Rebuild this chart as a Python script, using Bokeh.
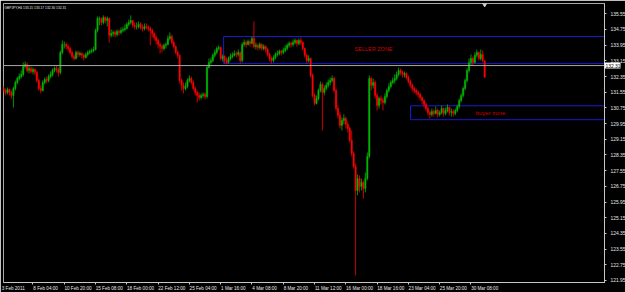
from bokeh.plotting import figure
from bokeh.models import Range1d, FixedTicker, PrintfTickFormatter, Label, Span, ColumnDataSource, LinearAxis
from bokeh.core.properties import value
from bokeh.embed import file_html
from bokeh.resources import INLINE

title_text = "GBPJPY,H4 133.15 133.17 132.30 132.31"
bid_label = "132.31"
hline_price = 132.91

first_open = 131.84
close = [131.74,131.64,131.54,131.69,131.54,131.39,131.74,132.05,132.25,132.35,
         132.46,132.86,132.97,132.66,132.76,132.61,132.71,132.56,132.15,131.74,
         131.64,132.05,132.20,132.15,132.35,132.46,132.66,132.76,132.71,132.56,
         133.58,133.99,133.99,133.88,133.78,133.58,133.37,133.27,133.58,133.48,
         133.53,133.43,133.32,133.48,133.58,133.63,133.68,133.73,134.70,135.31,
         135.31,135.11,135.36,135.21,135.31,134.45,134.55,134.60,134.50,134.65,
         134.60,134.70,134.75,134.80,135.01,135.11,135.21,134.96,134.90,134.90,
         135.01,134.85,134.80,134.90,134.85,134.80,134.70,134.55,134.34,134.19,
         133.99,133.88,133.78,133.94,133.99,134.29,134.39,134.09,133.88,133.58,
         133.43,132.15,131.90,131.74,131.84,132.15,132.25,132.05,131.74,131.54,
         131.39,131.28,131.39,131.44,131.33,132.81,133.07,133.17,133.43,133.58,
         133.78,133.83,133.27,133.37,133.17,133.07,133.27,133.37,133.43,133.53,
         133.48,133.58,133.17,133.99,134.09,133.99,134.14,134.04,134.29,133.88,
         133.94,133.83,133.99,133.78,133.88,133.73,133.48,133.27,133.17,133.32,
         133.48,133.53,133.63,133.58,133.68,133.78,133.94,134.04,133.99,134.09,
         134.19,134.04,134.19,134.09,133.78,133.43,133.17,133.27,132.41,131.39,
         130.98,131.23,131.64,131.95,131.54,131.74,131.90,132.05,132.15,132.25,
         131.64,130.72,130.37,129.86,130.11,130.21,129.91,129.70,129.09,128.43,
         127.76,126.54,127.15,126.74,126.95,126.64,127.15,128.27,132.25,131.90,
         132.05,131.39,130.88,131.23,131.13,131.03,131.33,131.64,131.84,132.05,
         132.15,132.25,132.46,132.66,132.56,132.46,132.51,132.30,132.10,131.90,
         131.74,131.64,131.54,131.44,131.28,131.13,130.93,130.72,130.52,130.42,
         130.57,130.47,130.62,130.42,130.52,130.72,130.47,130.62,130.77,130.52,
         130.57,130.47,130.62,130.82,131.13,131.39,131.74,132.15,132.66,133.07,
         133.27,133.07,133.43,133.58,133.27,133.48,133.15,132.31]
high = [131.95,131.84,131.74,131.79,131.74,131.64,131.84,132.15,132.35,132.51,
        132.66,133.07,133.12,133.07,132.92,132.86,132.81,132.76,132.66,132.25,
        131.90,132.15,132.30,132.35,132.46,132.61,132.76,132.86,132.92,132.81,
        133.68,134.19,134.14,134.09,133.99,133.88,133.68,133.48,133.68,133.68,
        133.63,133.58,133.53,133.58,133.68,133.73,133.78,133.88,134.80,135.41,
        135.41,135.36,135.47,135.41,135.41,135.36,134.75,134.70,134.70,134.75,
        134.75,134.85,134.90,135.01,135.11,135.26,135.47,135.21,135.11,135.11,
        135.16,135.11,135.01,135.06,135.06,134.96,134.90,134.80,134.60,134.45,
        134.29,134.09,133.99,134.04,134.09,134.45,134.60,134.50,134.19,133.94,
        133.68,133.48,132.25,132.05,132.05,132.25,132.41,132.35,132.15,131.84,
        131.64,131.54,131.49,131.54,131.54,132.92,133.27,133.32,133.53,133.73,
        133.88,133.94,133.88,133.48,133.43,133.32,133.37,133.53,133.58,133.68,
        133.63,133.73,133.63,134.09,134.24,134.19,134.24,134.19,134.39,135.16,
        134.09,134.04,134.09,134.04,133.99,133.94,133.83,133.58,133.37,133.43,
        133.58,133.68,133.73,133.73,133.83,133.94,134.04,134.14,134.14,134.24,
        134.29,134.24,134.29,134.34,134.14,133.83,133.53,133.43,133.32,132.51,
        131.49,131.39,131.74,132.10,132.05,131.90,132.05,132.20,132.30,132.41,
        132.35,131.74,130.88,130.52,130.26,130.42,130.31,130.06,129.80,129.60,
        128.53,127.92,127.36,127.31,127.15,127.05,127.46,128.48,132.41,132.35,
        132.25,132.15,131.49,131.33,131.39,131.28,131.49,131.74,132.00,132.15,
        132.30,132.46,132.61,132.81,132.76,132.66,132.61,132.56,132.41,132.20,
        132.00,131.84,131.74,131.64,131.54,131.33,131.18,131.03,130.82,130.62,
        130.72,130.67,130.82,130.72,130.62,130.88,130.77,130.77,130.93,130.82,
        130.72,130.67,130.72,130.93,131.23,131.49,131.84,132.25,132.76,133.27,
        133.48,133.37,133.58,133.73,133.63,133.73,133.68,133.17]
low = [131.54,131.49,131.39,131.44,131.39,131.23,130.77,131.64,131.95,132.15,
       132.25,132.35,132.76,132.56,132.51,132.51,132.46,132.41,132.05,131.64,
       131.49,131.59,131.95,132.00,132.05,132.25,132.35,132.56,132.56,132.35,
       132.46,133.48,133.78,133.73,133.63,133.48,133.27,133.17,133.22,133.32,
       133.37,133.27,133.17,133.27,133.37,133.48,133.53,133.58,133.68,134.60,
       134.96,134.96,135.01,135.06,134.90,134.09,134.34,134.39,134.34,134.39,
       134.45,134.50,134.60,134.65,134.75,134.90,135.01,134.85,134.75,134.75,
       134.80,134.75,134.65,134.70,134.75,134.65,133.94,134.34,134.19,133.99,
       133.78,133.53,133.58,133.68,133.78,133.94,134.19,133.99,133.78,133.48,
       133.27,132.00,131.64,131.49,131.64,131.74,132.05,131.95,131.64,131.39,
       131.03,131.13,131.18,131.28,131.18,131.23,132.76,132.97,133.07,133.32,
       133.48,133.68,133.17,133.12,133.02,132.97,133.02,133.17,133.27,133.37,
       133.32,133.37,133.02,133.07,133.88,133.83,133.94,133.88,133.99,133.78,
       133.73,133.68,133.73,133.68,133.68,133.58,133.37,133.12,133.02,133.07,
       133.22,133.37,133.43,133.43,133.48,133.58,133.68,133.83,133.83,133.88,
       133.99,133.88,133.94,133.94,133.68,133.32,133.02,133.07,132.30,131.28,
       130.88,130.93,131.13,131.54,129.60,131.39,131.64,131.79,131.90,132.05,
       131.54,130.62,130.21,129.70,129.60,129.91,129.70,129.50,128.99,128.27,
       127.66,122.21,126.29,126.44,126.54,126.13,126.44,127.05,128.17,131.64,
       131.74,131.23,130.62,130.72,130.93,130.62,130.93,131.23,131.54,131.74,
       131.95,132.00,132.15,132.35,132.41,132.30,132.30,132.20,132.00,131.79,
       131.59,131.49,131.39,131.28,131.13,130.93,130.77,130.57,130.37,130.21,
       130.31,130.31,130.42,130.26,130.31,130.42,130.31,130.37,130.52,130.37,
       130.31,130.31,130.37,130.52,130.72,131.03,131.28,131.64,132.05,132.56,
       132.92,132.92,133.02,133.32,133.17,133.17,133.07,132.30]

time_tick_bars = [0, 16, 32, 48, 64, 80, 96, 112, 128, 144, 160, 176, 192, 208, 224, 240]
time_tick_labels = ["3 Feb 2011", "8 Feb 04:00", "10 Feb 20:00", "15 Feb 08:00", "18 Feb 00:00",
                    "22 Feb 12:00", "25 Feb 04:00", "1 Mar 16:00", "4 Mar 08:00", "8 Mar 20:00",
                    "11 Mar 12:00", "16 Mar 00:00", "18 Mar 16:00", "23 Mar 04:00", "25 Mar 20:00",
                    "30 Mar 08:00"]
price_ticks = [135.55, 134.75, 133.95, 133.15, 132.35, 131.55, 130.75, 129.95, 129.15,
               128.35, 127.55, 126.75, 125.95, 125.15, 124.35, 123.55, 122.75, 121.95]

seller_zone = dict(left=113.5, top=134.39, bottom=133.02, label="SELLER ZONE", label_x=180.5, label_y=133.78)
buyer_zone = dict(left=209.1, top=130.86, bottom=130.15, label="buyer zone", label_x=242.4, label_y=130.47)

opens = [first_open] + close[:-1]
idx = list(range(len(close)))
UP = "#00b800"
DN = "#ff0000"
colors = [UP if c >= o else DN for o, c in zip(opens, close)]
src = ColumnDataSource(dict(x=idx, o=opens, c=close, h=high, l=low,
                            top=[max(a, b) for a, b in zip(opens, close)],
                            bot=[min(a, b) for a, b in zip(opens, close)],
                            col=colors))

X0, X1 = 0.92, 308.3
p = figure(frame_width=601, frame_height=279, x_range=Range1d(X0, X1),
           y_range=Range1d(121.848, 136.075), output_backend="svg",
           toolbar_location=None, y_axis_location="right",
           min_border_left=3, min_border_top=3, min_border_right=21, min_border_bottom=10,
           background_fill_color="black", border_fill_color="black")
p.outline_line_color = "#a8a8a8"
p.xgrid.visible = False
p.ygrid.visible = False

FONT = "Liberation Sans"
AXIS_GREY = "#c8c8c8"
LABEL_GREY = "#e8e8e8"

# time labels start at their tick (left-aligned), so the label anchor sits half a label to the right
label_pos = [round(b + 0.56 * len(t) + 0.3, 2) for b, t in zip(time_tick_bars, time_tick_labels)]
ax = p.xaxis[0]
ax.ticker = FixedTicker(ticks=label_pos, minor_ticks=time_tick_bars)
ax.major_label_overrides = {lp: t for lp, t in zip(label_pos, time_tick_labels)}
ax.major_label_text_font = FONT
ax.major_label_text_font_size = "4.6px"
ax.major_label_text_color = LABEL_GREY
ax.major_label_standoff = 1
ax.major_tick_out = 2
ax.major_tick_in = 0
ax.major_tick_line_color = None
ax.minor_tick_out = 2
ax.minor_tick_in = 0
ax.minor_tick_line_color = AXIS_GREY
ax.axis_line_color = AXIS_GREY

# Price scale, part 1 (next to the frame): axis line, small price ticks and the
# white current-price box (a thick major tick) carrying the bid text.
BOX_W = 16
bid_axis = LinearAxis(ticker=FixedTicker(ticks=[hline_price], minor_ticks=price_ticks),
                      major_label_overrides={hline_price: bid_label},
                      axis_line_color=AXIS_GREY,
                      major_tick_in=0, major_tick_out=BOX_W,
                      major_tick_line_color="white", major_tick_line_width=6,
                      minor_tick_in=0, minor_tick_out=2, minor_tick_line_color=AXIS_GREY,
                      major_label_standoff=-(BOX_W - 1),
                      major_label_text_font=FONT, major_label_text_font_size="4.9px",
                      major_label_text_color="black")

# Price scale, part 2: the price labels, pulled back next to the ticks.
ay = p.yaxis[0]
ay.ticker = FixedTicker(ticks=price_ticks)
ay.formatter = PrintfTickFormatter(format="%.2f")
ay.major_label_text_font = FONT
ay.major_label_text_font_size = "4.9px"
ay.major_label_text_color = LABEL_GREY
ay.major_label_standoff = -(BOX_W - 3)
ay.major_tick_out = 0
ay.major_tick_in = 0
ay.major_tick_line_color = None
ay.minor_tick_line_color = None
ay.axis_line_color = None

p.right = [bid_axis, ay]

# zones
BLUE = "#1a1ad0"
for z in (seller_zone, buyer_zone):
    p.quad(left=[z["left"]], right=[X1 + 50], top=[z["top"]], bottom=[z["bottom"]],
           fill_color=None, line_color=BLUE, line_width=1)
p.text(x=[seller_zone["label_x"]], y=[seller_zone["label_y"]], text=[seller_zone["label"]],
       text_color="#d00000", text_font=value(FONT), text_font_size="5.5px", text_baseline="middle")
p.text(x=[buyer_zone["label_x"]], y=[buyer_zone["label_y"]], text=[buyer_zone["label"]],
       text_color="#d00000", text_font=value(FONT), text_font_size="6px", text_baseline="middle")

p.add_layout(Span(location=hline_price, dimension="width", line_color="#a8a8a8", line_width=1))

# candles
p.segment(x0="x", y0="l", x1="x", y1="h", line_color="col", line_width=0.8, source=src)
p.vbar(x="x", width=0.7, top="top", bottom="bot", fill_color="col", line_color="col",
       line_width=0.4, source=src)

# chart shift marker
p.scatter(x=[len(close) - 1], y=[136.02], marker="inverted_triangle", size=4,
          color="#d0d0d0")

p.add_layout(Label(x=X0 + 0.5, y=136.075, text=title_text, text_color=LABEL_GREY,
                   text_font=FONT, text_font_size="3.3px", text_baseline="top",
                   y_offset=-2))

open("out.html", "w").write(file_html(p, INLINE))
